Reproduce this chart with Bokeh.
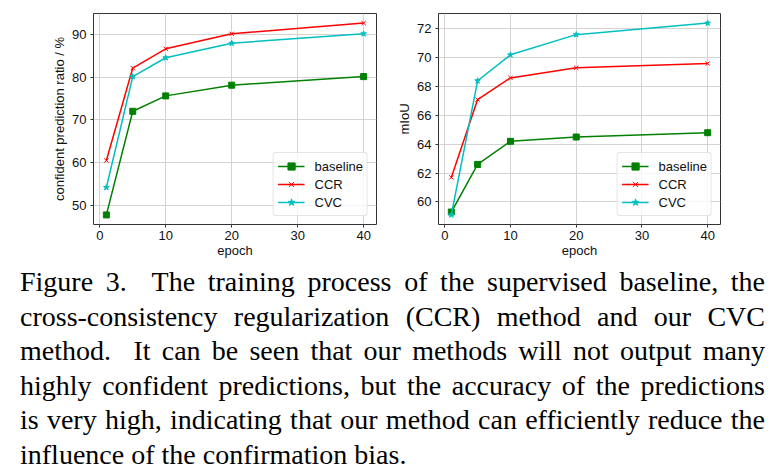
from bokeh.plotting import figure
from bokeh.layouts import column, row
from bokeh.models import Range1d, FixedTicker, Div, Legend
from bokeh.embed import file_html
from bokeh.resources import INLINE

epochs = [1, 5, 10, 20, 40]

conf_baseline = [47.8, 72.0, 75.6, 78.1, 80.1]
conf_ccr = [60.5, 82.1, 86.6, 90.1, 92.6]
conf_cvc = [54.2, 80.1, 84.5, 87.9, 90.1]

miou_baseline = [59.3, 62.6, 64.2, 64.5, 64.8]
miou_ccr = [61.7, 67.1, 68.6, 69.3, 69.6]
miou_cvc = [59.1, 68.4, 70.2, 71.6, 72.4]

x_ticks = [0, 10, 20, 30, 40]
left_y_ticks = [50, 60, 70, 80, 90]
right_y_ticks = [60, 62, 64, 66, 68, 70, 72]

series_names = ["baseline", "CCR", "CVC"]
colors = ["#008000", "#ff0000", "#00bfbf"]
markers = ["square", "x", "star"]

caption_lines = [
    "Figure 3.&nbsp; The training process of the supervised baseline, the",
    "cross-consistency regularization (CCR) method and our CVC",
    "method.&nbsp; It can be seen that our methods will not output many",
    "highly confident predictions, but the accuracy of the predictions",
    "is very high, indicating that our method can efficiently reduce the",
    "influence of the confirmation bias.",
]

FONT = "Liberation Sans"


def pad_range(vals, frac=0.05):
    lo, hi = min(vals), max(vals)
    m = (hi - lo) * frac
    return lo - m, hi + m


def make_fig(width, mb_left, mb_right, ylabel, ys, yticks):
    xr = pad_range(epochs)
    yr = pad_range([v for s in ys for v in s])
    p = figure(width=width, height=260, output_backend="svg", toolbar_location=None,
               x_range=Range1d(*xr), y_range=Range1d(*yr),
               min_border_left=mb_left, min_border_right=mb_right,
               min_border_top=13, min_border_bottom=34)
    p.background_fill_color = "white"
    p.border_fill_color = "white"
    p.outline_line_color = "#333333"
    p.outline_line_width = 1
    for ax in (p.xaxis[0], p.yaxis[0]):
        ax.axis_line_color = None
        ax.major_tick_out = 3
        ax.major_tick_in = 0
        ax.minor_tick_out = 0
        ax.minor_tick_in = 0
        ax.major_tick_line_color = "#333333"
        ax.major_label_text_font = FONT
        ax.major_label_text_font_size = "13px"
        ax.major_label_text_color = "#111111"
        ax.axis_label_text_font = FONT
        ax.axis_label_text_font_size = "13px"
        ax.axis_label_text_font_style = "normal"
        ax.axis_label_text_color = "#111111"
    p.xaxis[0].ticker = FixedTicker(ticks=x_ticks)
    p.yaxis[0].ticker = FixedTicker(ticks=yticks)
    p.xaxis[0].axis_label = "epoch"
    p.yaxis[0].axis_label = ylabel
    p.xaxis[0].major_label_standoff = 3
    p.xaxis[0].axis_label_standoff = 0
    p.yaxis[0].major_label_standoff = 4
    p.yaxis[0].axis_label_standoff = 2
    p.grid.grid_line_color = "#d3d3d3"
    p.grid.grid_line_width = 1

    items = []
    for name, col, mk, vals in zip(series_names, colors, markers, ys):
        ln = p.line(epochs, vals, line_color=col, line_width=1.5)
        if mk == "square":
            sc = p.scatter(epochs, vals, marker=mk, size=6, fill_color=col, line_color=col)
        elif mk == "x":
            sc = p.scatter(epochs, vals, marker=mk, size=6, line_color=col, line_width=1)
        else:
            sc = p.scatter(epochs, vals, marker=mk, size=6, fill_color=col, line_color=col)
        items.append((name, [ln, sc]))
    leg = Legend(items=items, location="bottom_right")
    leg.margin = 8
    leg.padding = 4
    leg.spacing = 0
    leg.label_height = 18
    leg.glyph_height = 18
    leg.glyph_width = 27
    leg.label_standoff = 10
    leg.label_text_font = FONT
    leg.label_text_font_size = "13px"
    leg.label_text_color = "#111111"
    leg.border_line_color = "#cccccc"
    leg.border_line_width = 1
    leg.background_fill_alpha = 0.8
    try:
        leg.border_radius = 3
    except Exception:
        pass
    p.add_layout(leg, "center")
    return p


p1 = make_fig(390, 93, 14, "confident prediction ratio / %",
              [conf_baseline, conf_ccr, conf_cvc], left_y_ticks)
p2 = make_fig(393, 48, 63, "mIoU",
              [miou_baseline, miou_ccr, miou_cvc], right_y_ticks)

line_html = []
for i, t in enumerate(caption_lines):
    last = "justify" if i < len(caption_lines) - 1 else "left"
    line_html.append(
        f'<div style="text-align:justify;text-align-last:{last};width:745px;'
        f'white-space:normal;">{t}</div>'
    )
html = ('<div style="font-family:\'Liberation Serif\',\'Times New Roman\',serif;font-size:28px;'
        'line-height:34.5px;color:#000;padding-left:20px;margin-top:5px;">'
        + "".join(line_html) + '</div>')
cap = Div(text=html, width=783, height=212, margin=(0, 0, 0, 0))

layout = column(row(p1, p2, spacing=0), cap, spacing=0)
open("out.html", "w").write(file_html(layout, INLINE))
